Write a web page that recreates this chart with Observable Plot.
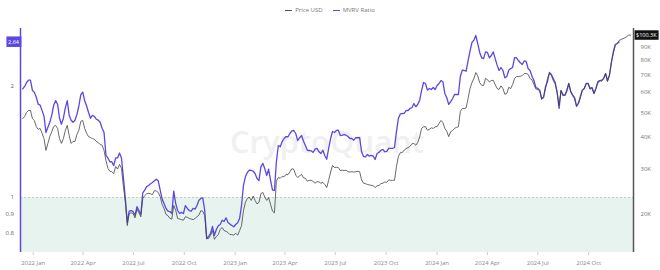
<!DOCTYPE html>
<html><head><meta charset="utf-8">
<script src="https://cdn.jsdelivr.net/npm/d3@7"></script>
<script src="https://cdn.jsdelivr.net/npm/@observablehq/plot@0.6"></script>
<style>
body{margin:0;background:#fff;font-family:"Open Sans",sans-serif;}
#legend{height:20px;display:flex;justify-content:center;align-items:center;gap:10px;font-size:6px;color:#777;}
#legend span{display:inline-flex;align-items:center;}
.sw{display:inline-block;width:7px;height:1px;margin-right:3px;}
</style></head><body>
<div id="legend"><span><i class="sw" style="background:#555"></i>Price USD</span><span><i class="sw" style="background:#5a48e0"></i>MVRV Ratio</span></div>
<div id="chart"></div>
<script>
// samples every 3.5 days starting 2021-12-13
const sampleStart = "2021-12-13";
const sampleEnd = "2024-12-17";
const sampleStepHours = 84;

const mvrv = [
1.97,2.00, 2.05,2.08, 2.08,1.95, 1.93,1.87, 1.79,1.78, 1.72,1.66, 1.50,1.55, 1.60,1.67, 1.78,1.83, 1.79,1.64,
1.58,1.64, 1.75,1.83, 1.67,1.62, 1.60,1.62, 1.68,1.77, 1.90,1.93, 1.83,1.77, 1.70,1.64, 1.67,1.66, 1.63,1.62,
1.60,1.54, 1.50,1.30, 1.28,1.25, 1.25,1.22, 1.28,1.28, 1.32,1.28, 1.13,0.994, 0.856,0.918, 0.922,0.916, 0.894,0.945,
0.922,0.900, 1.03,1.047, 1.07,1.078, 1.09,1.098, 1.11,1.121, 1.11,1.047, 0.99,0.963, 0.934,0.918, 0.916,0.905, 1.04,0.963,
0.922,0.905, 0.911,0.905, 0.951,0.934, 0.922,0.918, 0.934,0.930, 0.951,0.983, 0.994,0.998, 0.922,0.774, 0.784,0.799, 0.835,0.790,
0.819,0.838, 0.845,0.868, 0.861,0.881, 0.856,0.847, 0.840,0.833, 0.845,0.854, 0.877,0.951, 1.078,1.138, 1.169,1.186, 1.184,1.178,
1.162,1.126, 1.112,1.211, 1.237,1.198, 1.147,1.193, 1.112,1.047, 1.045,1.250, 1.383,1.372, 1.418,1.445, 1.463,1.461, 1.491,1.516,
1.519,1.491, 1.427,1.452, 1.472,1.421, 1.383,1.343, 1.341,1.338, 1.325,1.352, 1.358,1.330, 1.316,1.343, 1.300,1.270, 1.358,1.445,
1.510,1.500, 1.519,1.522, 1.472,1.475, 1.481,1.475, 1.463,1.445, 1.445,1.430, 1.454,1.452, 1.454,1.330, 1.292,1.289, 1.308,1.294,
1.300,1.294, 1.268,1.316, 1.325,1.343, 1.350,1.330, 1.333,1.358, 1.358,1.358, 1.366,1.506, 1.637,1.685, 1.689,1.691, 1.721,1.721,
1.743,1.751, 1.798,1.762, 1.787,1.836, 1.950,2.050, 2.037,1.954, 1.975,1.962, 1.987,1.962, 2.012,2.037, 2.075,2.059, 1.914,1.863,
1.787,1.817, 1.855,1.902, 1.902,1.902, 2.128,2.213, 2.209,2.199, 2.351,2.492, 2.631,2.669, 2.748,2.614, 2.472,2.391, 2.380,2.482,
2.472,2.391, 2.426,2.482, 2.380,2.284, 2.209,2.251, 2.209,2.111, 2.128,2.213, 2.236,2.251, 2.395,2.391, 2.351,2.318, 2.293,2.347,
2.337,2.237, 2.209,2.132, 2.075,1.987, 1.975,1.954, 1.855,1.866, 2.000,2.059, 2.182,2.154, 2.101,2.050, 1.926,1.743, 1.950,1.902,
1.890,1.942, 2.037,1.934, 1.890,1.855, 1.765,1.798, 1.878,1.954, 1.975,2.037, 2.037,1.975, 1.987,1.914, 1.975,2.046, 2.075,2.079,
2.101,2.168, 2.075,2.145, 2.322,2.482, 2.598,2.614, 2.64
];

// BTC price, thousands of USD
const price = [
47.4,48.3, 50.1,51.0, 51.0,47.4, 46.6,44.1, 43.0,43.4, 41.5,39.6, 35.6,37.9, 40.3,42.1, 44.1,44.6, 43.4,39.6,
37.9,39.6, 42.6,44.6, 40.7,37.9, 38.6,38.6, 41.1,42.7, 46.2,46.6, 43.4,41.5, 40.3,40.0, 39.6,39.4, 38.6,38.2,
37.5,37.3, 35.6,32.5, 30.3,29.5, 29.4,28.9, 30.8,30.1, 31.4,30.3, 25.8,22.4, 18.1,20.2, 20.3,20.2, 19.4,21.0,
20.3,19.6, 23.1,23.7, 24.1,24.2, 24.1,23.9, 24.8,24.7, 24.4,23.5, 21.9,21.1, 20.0,19.8, 19.3,19.2, 21.7,20.8,
19.3,19.2, 19.1,19.0, 19.6,19.5, 19.3,19.2, 19.1,19.3, 19.6,19.9, 20.7,20.6, 19.8,16.1, 16.1,16.6, 17.3,16.0,
16.4,16.7, 17.5,17.8, 17.3,17.2, 17.0,16.7, 16.7,16.6, 16.9,16.6, 17.3,18.1, 20.7,22.3, 23.1,23.4, 22.7,23.6,
22.7,22.0, 22.3,24.1, 24.4,23.4, 22.7,23.3, 21.9,20.6, 20.3,27.0, 27.9,27.7, 28.2,28.1, 28.7,28.6, 29.4,30.2,
30.0,28.5, 27.9,28.3, 28.7,27.8, 27.7,27.0, 27.2,27.2, 26.9,26.5, 26.9,26.8, 26.5,26.7, 26.2,25.5, 27.2,29.3,
31.1,30.5, 30.6,30.5, 29.7,29.8, 29.7,29.8, 29.4,29.3, 29.4,29.3, 29.4,29.5, 29.4,27.3, 26.5,26.4, 26.2,26.1,
26.0,25.9, 25.5,25.9, 26.0,26.4, 26.5,26.8, 26.7,27.3, 27.2,27.2, 27.2,30.7, 33.7,34.9, 34.9,35.7, 36.2,36.5,
36.9,37.8, 37.9,37.3, 38.2,40.2, 43.4,44.0, 44.1,42.7, 43.0,43.6, 43.4,44.0, 44.1,45.4, 46.6,45.7, 43.4,42.3,
40.3,42.1, 42.6,43.4, 43.8,44.0, 50.5,51.9, 51.9,52.2, 56.8,62.1, 65.5,68.0, 71.7,69.6, 65.5,64.0, 63.8,68.0,
67.3,65.9, 66.7,66.9, 64.4,62.1, 61.6,63.6, 62.1,59.0, 59.4,62.8, 62.1,64.4, 68.0,69.2, 69.2,69.4, 69.8,71.1,
71.1,70.6, 68.0,67.2, 64.4,61.9, 61.6,60.8, 56.3,57.9, 62.1,68.0, 71.1,70.0, 66.7,64.6, 59.9,53.4, 61.0,58.1,
58.8,61.6, 65.0,60.8, 58.8,57.6, 53.3,54.5, 57.3,61.2, 62.1,65.0, 65.0,61.6, 62.6,59.4, 62.1,66.3, 66.7,66.3,
68.0,71.1, 66.1,70.0, 78.5,85.1, 91.5,93.2, 95.7,96.6, 97.4,98.0, 99.2,100.6, 100.3
];

const mvrvTicks = [0.8, 0.9, 1, 2];
const mvrvTickLabels = ["0.8", "0.9", "1", "2"];
const priceTicks = [20, 30, 40, 50, 60, 70, 80, 90];
const priceTickLabels = ["20K", "30K", "40K", "50K", "60K", "70K", "80K", "90K"];
const mvrvBadge = "2.64";
const priceBadge = "$100.3K";
const xStart = "2021-12-09", xEnd = "2024-12-21";

const purple = "#5a48e0";
const W = 660, H = 250, mT = 8, mB = 18, mL = 20, mR = 27;

// axis domains
const vMin = 0.7095, vMax = 2.871;      // MVRV (left, log)
const pMin = 14.21, pMax = 106.6;       // price in K (right, log)
const toY = p => Math.exp(Math.log(vMin) + (Math.log(p) - Math.log(pMin)) / (Math.log(pMax) - Math.log(pMin)) * (Math.log(vMax) - Math.log(vMin)));

const dates = d3.utcHour.range(new Date(sampleStart), new Date(sampleEnd), sampleStepHours);
const mvrvData = mvrv.map((v, i) => ({date: dates[i], v}));
const priceData = price.map((p, i) => ({date: dates[i], p}));
const x0 = new Date(xStart), x1 = new Date(xEnd);
const xTicks = d3.utcMonth.every(3).range(new Date("2022-01-01"), new Date("2024-12-01"));

const leftMap = new Map(mvrvTicks.map((t, i) => [t, mvrvTickLabels[i]]));
const rightVals = priceTicks.map(toY);
const rightMap = new Map(rightVals.map((t, i) => [t, priceTickLabels[i]]));

const chart = Plot.plot({
  width: W, height: H, marginTop: mT, marginBottom: mB, marginLeft: mL, marginRight: mR,
  style: {fontFamily: "'Open Sans', sans-serif", fontSize: "6px", background: "white", color: "#888"},
  x: {type: "utc", domain: [x0, x1]},
  y: {type: "log", domain: [vMin, vMax]},
  marks: [
    Plot.rect([0], {x1: () => x0, x2: () => x1, y1: () => vMin, y2: () => 1, fill: "#e7f3ee"}),
    Plot.text(["CryptoQuant"], {frameAnchor: "middle", dy: 3, fontSize: 31, fontWeight: 600, fill: "#f0f0f3", fontFamily: "'Open Sans', sans-serif"}),
    Plot.ruleY([1], {stroke: "#a6cfa6", strokeDasharray: "2,2", strokeWidth: 0.8}),
    Plot.axisX({ticks: xTicks, tickFormat: d3.utcFormat("%Y %b"), tickSize: 3, tickPadding: 5, stroke: "#ccc", fill: "#888", label: null}),
    Plot.axisY({anchor: "left", ticks: mvrvTicks, tickFormat: d => leftMap.get(d), tickSize: 0, tickPadding: 6.5, fill: "#666", label: null}),
    Plot.axisY({anchor: "right", ticks: rightVals, tickFormat: d => rightMap.get(d), tickSize: 0, tickPadding: 7, fill: "#777", label: null}),
    Plot.lineY(mvrvData, {x: "date", y: "v", stroke: purple, strokeWidth: 1.3}),
    Plot.lineY(priceData, {x: "date", y: d => toY(d.p), stroke: "#444", strokeWidth: 0.8}),
    Plot.ruleX([x0], {stroke: purple, strokeWidth: 1.5}),
    Plot.ruleX([x1], {stroke: "#555", strokeWidth: 1.5}),
    Plot.text([mvrv[mvrv.length - 1]], {x: () => x0, y: d => d, text: () => mvrvBadge, dx: -7, fill: "white", fontSize: 5.5}),
    Plot.text([price[price.length - 1]], {x: () => x1, y: d => toY(d), text: () => priceBadge, textAnchor: "start", dx: 2.5, fill: "white", fontSize: 5.5})
  ]
});
document.getElementById("chart").appendChild(chart);

function badge(label, color, w, h) {
  const svg = chart.tagName.toLowerCase() === "svg" ? chart : chart.querySelector("svg");
  const texts = Array.from(svg.querySelectorAll("text")).filter(t => t.textContent === label);
  texts.forEach(t => {
    const b = t.getBBox();
    const r = document.createElementNS("http://www.w3.org/2000/svg", "rect");
    r.setAttribute("x", b.x + b.width / 2 - w / 2);
    r.setAttribute("y", b.y + b.height / 2 - h / 2);
    r.setAttribute("width", w);
    r.setAttribute("height", h);
    r.setAttribute("fill", color);
    r.setAttribute("stroke", "none");
    const tr = t.getAttribute("transform");
    if (tr) r.setAttribute("transform", tr);
    t.parentNode.insertBefore(r, t);
  });
}
badge(mvrvBadge, purple, 15, 10.5);
badge(priceBadge, "#111", 24, 9.5);
</script>
</body></html>
